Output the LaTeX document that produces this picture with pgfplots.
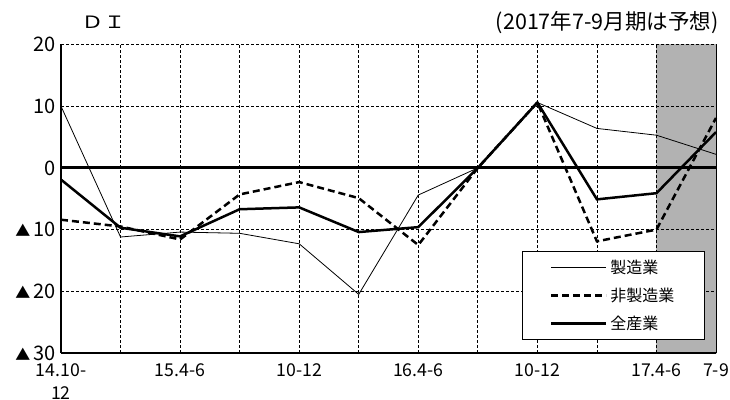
\documentclass[border=0pt]{standalone}
\usepackage{pgfplots}
\pgfplotsset{compat=1.18}
\usepackage{fontspec}
\setmainfont{Noto Sans CJK JP}
\newfontfamily\widefont{Noto Sans CJK JP}[FakeStretch=1.3]
\definecolor{shade}{RGB}{178,178,178}
\newcommand{\tri}{{\fontsize{15bp}{15bp}\selectfont ▲}\hspace{3bp}}
\begin{document}
\fontsize{16bp}{20bp}\selectfont
\begin{tikzpicture}
\begin{axis}[
  set layers, clip=false,
  scale only axis, width=655bp, height=308.5bp,
  xmin=0, xmax=11, ymin=-30, ymax=20,
  axis lines=left, axis line style={-, line width=2bp},
  xtick={0,...,11},
  xticklabels={{14.10-\\[3bp]12},{},15.4-6,{},10-12,{},16.4-6,{},10-12,{},17.4-6,7-9},
  ytick={-30,-20,-10,0,10,20},
  yticklabels={\tri 30\hspace{8bp},\tri 20\hspace{8bp},\tri 10\hspace{8bp},0\hspace{8bp},10\hspace{8bp},20\hspace{8bp}},
  major tick length=0pt,
  grid=major,
  grid style={black, dash pattern=on 3bp off 2bp, line width=0.8bp},
  xticklabel style={font=\fontsize{17.7bp}{20bp}\selectfont, align=center},
  xticklabel shift=5bp,
  yticklabel style={font=\fontsize{20bp}{22bp}\selectfont},
  legend style={at={(0.983,0.042)}, anchor=south east, draw=black, line width=1bp,
    fill=white, inner xsep=27bp, inner ysep=5bp, row sep=6bp,
    nodes={inner sep=3bp}, cells={anchor=west},
    font=\fontsize{16bp}{20bp}\selectfont},
  legend image code/.code={\draw[#1] (0bp,0bp) -- (55bp,0bp);},
]
\addplot[on layer=axis background, fill=shade, draw=none, forget plot]
  coordinates {(10,-30) (11,-30) (11,20) (10,20)} -- cycle;
\addplot[black, line width=3bp, forget plot] coordinates {(0,0) (11,0)};
\addplot[black, line width=0.8bp] coordinates {
  (0,10) (1,-11.2) (2,-10.4) (3,-10.6) (4,-12.3) (5,-20.5) (6,-4.4) (7,0) (8,10.6) (9,6.4) (10,5.3) (11,2.2)};
\addlegendentry{製造業}
\addplot[black, line width=2.5bp, dash pattern=on 7bp off 4bp] coordinates {
  (0,-8.4) (1,-9.5) (2,-11.6) (3,-4.3) (4,-2.3) (5,-4.9) (6,-12.5) (7,0) (8,10.6) (9,-11.9) (10,-10.0) (11,8.1)};
\addlegendentry{非製造業}
\addplot[black, line width=2.5bp] coordinates {
  (0,-1.9) (1,-9.7) (2,-11.1) (3,-6.7) (4,-6.4) (5,-10.4) (6,-9.6) (7,0) (8,10.6) (9,-5.1) (10,-4.1) (11,5.8)};
\addlegendentry{全産業}
\draw[black, line width=1bp] (rel axis cs:1,0) -- (rel axis cs:1,1);
\node[anchor=base, font=\widefont\fontsize{17bp}{20bp}\selectfont] at (rel axis cs:0.065,1) [yshift=16.2bp] {ＤＩ};
\node[anchor=base east, font=\fontsize{21.5bp}{24bp}\selectfont] at (rel axis cs:1,1) [xshift=8bp, yshift=14.5bp] {(2017年7-9月期は予想)};
\end{axis}
\pgfresetboundingbox
\useasboundingbox (-61bp,-47bp) rectangle (669bp,353bp);
\end{tikzpicture}
\end{document}
